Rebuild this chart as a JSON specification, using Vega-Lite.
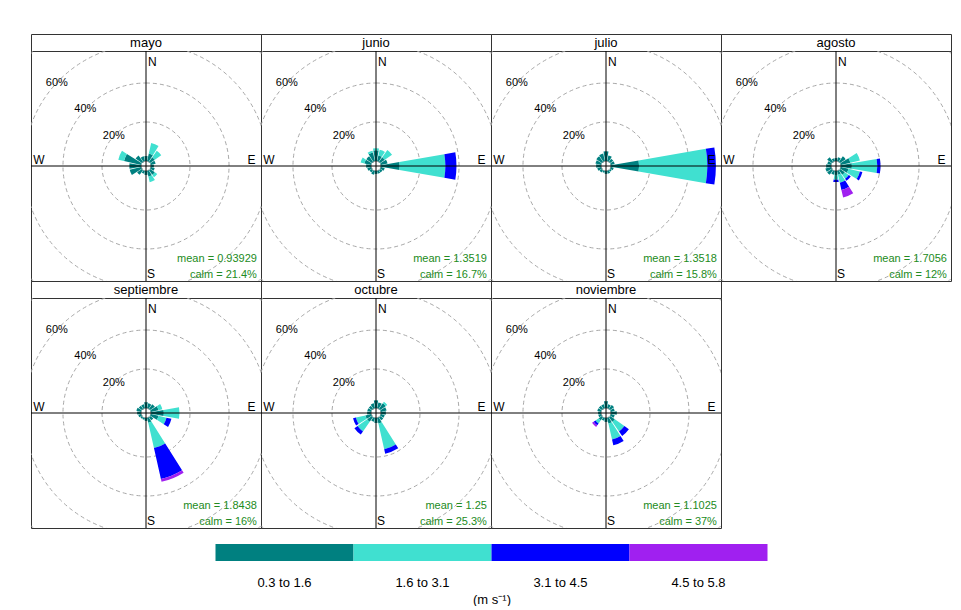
{
  "$schema": "https://vega.github.io/schema/vega-lite/v6.json",
  "padding": {"left": 30, "top": 33, "right": 10, "bottom": 0},
  "background": "white",
  "spacing": 15,
  "center": true,
  "config": {
    "view": {"stroke": "#333333", "strokeWidth": 1},
    "text": {"font": "Liberation Sans", "fontSize": 12, "color": "#000000"},
    "range": {"category": ["#008080", "#40E0D0", "#0000FF", "#A020F0"]},
    "concat": {"spacing": 0}
  },
  "datasets": {
    "grid": [{"r": 0, "t": ""}, {"r": 20, "t": "20%"}, {"r": 40, "t": "40%"}, {"r": 60, "t": "60%"}, {"r": 80, "t": ""}],
    "stats": [
      {"m": "mayo", "mean": "mean = 0.93929", "calm": "calm = 21.4%"},
      {"m": "junio", "mean": "mean = 1.3519", "calm": "calm = 16.7%"},
      {"m": "julio", "mean": "mean = 1.3518", "calm": "calm = 15.8%"},
      {"m": "agosto", "mean": "mean = 1.7056", "calm": "calm = 12%"},
      {"m": "septiembre", "mean": "mean = 1.8438", "calm": "calm = 16%"},
      {"m": "octubre", "mean": "mean = 1.25", "calm": "calm = 25.3%"},
      {"m": "noviembre", "mean": "mean = 1.1025", "calm": "calm = 37%"}
    ],
    "petals": [
      {"m": "mayo", "d": 0, "s": "0.3 to 1.6", "p": 2.5},
      {"m": "mayo", "d": 22.5, "s": "0.3 to 1.6", "p": 4},
      {"m": "mayo", "d": 22.5, "s": "1.6 to 3.1", "p": 5.5},
      {"m": "mayo", "d": 45, "s": "0.3 to 1.6", "p": 3},
      {"m": "mayo", "d": 45, "s": "1.6 to 3.1", "p": 4},
      {"m": "mayo", "d": 67.5, "s": "0.3 to 1.6", "p": 2.5},
      {"m": "mayo", "d": 90, "s": "0.3 to 1.6", "p": 1.5},
      {"m": "mayo", "d": 112.5, "s": "0.3 to 1.6", "p": 2},
      {"m": "mayo", "d": 135, "s": "0.3 to 1.6", "p": 3},
      {"m": "mayo", "d": 135, "s": "1.6 to 3.1", "p": 1.5},
      {"m": "mayo", "d": 157.5, "s": "0.3 to 1.6", "p": 3},
      {"m": "mayo", "d": 157.5, "s": "1.6 to 3.1", "p": 3},
      {"m": "mayo", "d": 180, "s": "0.3 to 1.6", "p": 2},
      {"m": "mayo", "d": 202.5, "s": "0.3 to 1.6", "p": 1.5},
      {"m": "mayo", "d": 225, "s": "0.3 to 1.6", "p": 3},
      {"m": "mayo", "d": 247.5, "s": "0.3 to 1.6", "p": 6},
      {"m": "mayo", "d": 270, "s": "0.3 to 1.6", "p": 6},
      {"m": "mayo", "d": 292.5, "s": "0.3 to 1.6", "p": 9},
      {"m": "mayo", "d": 292.5, "s": "1.6 to 3.1", "p": 3},
      {"m": "mayo", "d": 315, "s": "0.3 to 1.6", "p": 4},
      {"m": "mayo", "d": 337.5, "s": "0.3 to 1.6", "p": 2.5},

      {"m": "junio", "d": 0, "s": "0.3 to 1.6", "p": 5.5},
      {"m": "junio", "d": 0, "s": "1.6 to 3.1", "p": 1},
      {"m": "junio", "d": 22.5, "s": "0.3 to 1.6", "p": 3},
      {"m": "junio", "d": 22.5, "s": "1.6 to 3.1", "p": 3},
      {"m": "junio", "d": 45, "s": "0.3 to 1.6", "p": 3},
      {"m": "junio", "d": 45, "s": "1.6 to 3.1", "p": 4.5},
      {"m": "junio", "d": 67.5, "s": "0.3 to 1.6", "p": 3.5},
      {"m": "junio", "d": 90, "s": "0.3 to 1.6", "p": 9.6},
      {"m": "junio", "d": 90, "s": "1.6 to 3.1", "p": 23.4},
      {"m": "junio", "d": 90, "s": "3.1 to 4.5", "p": 5.7},
      {"m": "junio", "d": 112.5, "s": "0.3 to 1.6", "p": 2},
      {"m": "junio", "d": 135, "s": "0.3 to 1.6", "p": 1.5},
      {"m": "junio", "d": 157.5, "s": "0.3 to 1.6", "p": 1.5},
      {"m": "junio", "d": 180, "s": "0.3 to 1.6", "p": 1.5},
      {"m": "junio", "d": 202.5, "s": "0.3 to 1.6", "p": 2},
      {"m": "junio", "d": 225, "s": "0.3 to 1.6", "p": 1.5},
      {"m": "junio", "d": 247.5, "s": "0.3 to 1.6", "p": 2},
      {"m": "junio", "d": 270, "s": "0.3 to 1.6", "p": 2.5},
      {"m": "junio", "d": 292.5, "s": "0.3 to 1.6", "p": 3.5},
      {"m": "junio", "d": 292.5, "s": "1.6 to 3.1", "p": 2},
      {"m": "junio", "d": 315, "s": "0.3 to 1.6", "p": 3.5},
      {"m": "junio", "d": 337.5, "s": "0.3 to 1.6", "p": 4.5},
      {"m": "junio", "d": 337.5, "s": "1.6 to 3.1", "p": 1},

      {"m": "julio", "d": 0, "s": "0.3 to 1.6", "p": 5},
      {"m": "julio", "d": 22.5, "s": "0.3 to 1.6", "p": 3},
      {"m": "julio", "d": 45, "s": "0.3 to 1.6", "p": 2},
      {"m": "julio", "d": 67.5, "s": "0.3 to 1.6", "p": 2},
      {"m": "julio", "d": 90, "s": "0.3 to 1.6", "p": 14.4},
      {"m": "julio", "d": 90, "s": "1.6 to 3.1", "p": 35},
      {"m": "julio", "d": 90, "s": "3.1 to 4.5", "p": 4.4},
      {"m": "julio", "d": 112.5, "s": "0.3 to 1.6", "p": 1.5},
      {"m": "julio", "d": 135, "s": "0.3 to 1.6", "p": 1},
      {"m": "julio", "d": 157.5, "s": "0.3 to 1.6", "p": 1.5},
      {"m": "julio", "d": 180, "s": "0.3 to 1.6", "p": 1.5},
      {"m": "julio", "d": 202.5, "s": "0.3 to 1.6", "p": 1},
      {"m": "julio", "d": 225, "s": "0.3 to 1.6", "p": 1.5},
      {"m": "julio", "d": 247.5, "s": "0.3 to 1.6", "p": 2},
      {"m": "julio", "d": 270, "s": "0.3 to 1.6", "p": 2.5},
      {"m": "julio", "d": 292.5, "s": "0.3 to 1.6", "p": 3},
      {"m": "julio", "d": 315, "s": "0.3 to 1.6", "p": 3.5},
      {"m": "julio", "d": 337.5, "s": "0.3 to 1.6", "p": 4},

      {"m": "agosto", "d": 0, "s": "0.3 to 1.6", "p": 1.5},
      {"m": "agosto", "d": 22.5, "s": "0.3 to 1.6", "p": 2},
      {"m": "agosto", "d": 45, "s": "0.3 to 1.6", "p": 3.5},
      {"m": "agosto", "d": 67.5, "s": "0.3 to 1.6", "p": 5},
      {"m": "agosto", "d": 67.5, "s": "1.6 to 3.1", "p": 5},
      {"m": "agosto", "d": 90, "s": "0.3 to 1.6", "p": 5.6},
      {"m": "agosto", "d": 90, "s": "1.6 to 3.1", "p": 13},
      {"m": "agosto", "d": 90, "s": "3.1 to 4.5", "p": 1.7},
      {"m": "agosto", "d": 112.5, "s": "0.3 to 1.6", "p": 4},
      {"m": "agosto", "d": 112.5, "s": "1.6 to 3.1", "p": 6},
      {"m": "agosto", "d": 112.5, "s": "3.1 to 4.5", "p": 1.3},
      {"m": "agosto", "d": 135, "s": "0.3 to 1.6", "p": 3},
      {"m": "agosto", "d": 135, "s": "1.6 to 3.1", "p": 2.5},
      {"m": "agosto", "d": 135, "s": "3.1 to 4.5", "p": 1.2},
      {"m": "agosto", "d": 157.5, "s": "0.3 to 1.6", "p": 2},
      {"m": "agosto", "d": 157.5, "s": "1.6 to 3.1", "p": 4.3},
      {"m": "agosto", "d": 157.5, "s": "3.1 to 4.5", "p": 3.7},
      {"m": "agosto", "d": 157.5, "s": "4.5 to 5.8", "p": 4},
      {"m": "agosto", "d": 180, "s": "0.3 to 1.6", "p": 2},
      {"m": "agosto", "d": 180, "s": "1.6 to 3.1", "p": 2.5},
      {"m": "agosto", "d": 180, "s": "3.1 to 4.5", "p": 1.2},
      {"m": "agosto", "d": 202.5, "s": "0.3 to 1.6", "p": 2},
      {"m": "agosto", "d": 225, "s": "0.3 to 1.6", "p": 3},
      {"m": "agosto", "d": 247.5, "s": "0.3 to 1.6", "p": 3},
      {"m": "agosto", "d": 270, "s": "0.3 to 1.6", "p": 2.5},
      {"m": "agosto", "d": 292.5, "s": "0.3 to 1.6", "p": 2},
      {"m": "agosto", "d": 315, "s": "0.3 to 1.6", "p": 3},
      {"m": "agosto", "d": 337.5, "s": "0.3 to 1.6", "p": 1.5},

      {"m": "septiembre", "d": 0, "s": "0.3 to 1.6", "p": 3},
      {"m": "septiembre", "d": 22.5, "s": "0.3 to 1.6", "p": 2.5},
      {"m": "septiembre", "d": 45, "s": "0.3 to 1.6", "p": 3},
      {"m": "septiembre", "d": 67.5, "s": "0.3 to 1.6", "p": 4},
      {"m": "septiembre", "d": 67.5, "s": "1.6 to 3.1", "p": 2},
      {"m": "septiembre", "d": 90, "s": "0.3 to 1.6", "p": 6.6},
      {"m": "septiembre", "d": 90, "s": "1.6 to 3.1", "p": 8},
      {"m": "septiembre", "d": 112.5, "s": "0.3 to 1.6", "p": 4},
      {"m": "septiembre", "d": 112.5, "s": "1.6 to 3.1", "p": 4.2},
      {"m": "septiembre", "d": 112.5, "s": "3.1 to 4.5", "p": 2.6},
      {"m": "septiembre", "d": 135, "s": "0.3 to 1.6", "p": 2},
      {"m": "septiembre", "d": 157.5, "s": "0.3 to 1.6", "p": 2.6},
      {"m": "septiembre", "d": 157.5, "s": "1.6 to 3.1", "p": 13.3},
      {"m": "septiembre", "d": 157.5, "s": "3.1 to 4.5", "p": 16.2},
      {"m": "septiembre", "d": 157.5, "s": "4.5 to 5.8", "p": 1.5},
      {"m": "septiembre", "d": 180, "s": "0.3 to 1.6", "p": 1.5},
      {"m": "septiembre", "d": 202.5, "s": "0.3 to 1.6", "p": 1},
      {"m": "septiembre", "d": 225, "s": "0.3 to 1.6", "p": 1},
      {"m": "septiembre", "d": 247.5, "s": "0.3 to 1.6", "p": 1.5},
      {"m": "septiembre", "d": 270, "s": "0.3 to 1.6", "p": 2},
      {"m": "septiembre", "d": 292.5, "s": "0.3 to 1.6", "p": 2.5},
      {"m": "septiembre", "d": 315, "s": "0.3 to 1.6", "p": 2},
      {"m": "septiembre", "d": 337.5, "s": "0.3 to 1.6", "p": 2},

      {"m": "octubre", "d": 0, "s": "0.3 to 1.6", "p": 4},
      {"m": "octubre", "d": 22.5, "s": "0.3 to 1.6", "p": 3},
      {"m": "octubre", "d": 45, "s": "0.3 to 1.6", "p": 3.5},
      {"m": "octubre", "d": 45, "s": "1.6 to 3.1", "p": 1},
      {"m": "octubre", "d": 67.5, "s": "0.3 to 1.6", "p": 3},
      {"m": "octubre", "d": 90, "s": "0.3 to 1.6", "p": 2.5},
      {"m": "octubre", "d": 112.5, "s": "0.3 to 1.6", "p": 2},
      {"m": "octubre", "d": 135, "s": "0.3 to 1.6", "p": 2},
      {"m": "octubre", "d": 157.5, "s": "0.3 to 1.6", "p": 3},
      {"m": "octubre", "d": 157.5, "s": "1.6 to 3.1", "p": 13.5},
      {"m": "octubre", "d": 157.5, "s": "3.1 to 4.5", "p": 2.3},
      {"m": "octubre", "d": 180, "s": "0.3 to 1.6", "p": 2.5},
      {"m": "octubre", "d": 202.5, "s": "0.3 to 1.6", "p": 2},
      {"m": "octubre", "d": 225, "s": "0.3 to 1.6", "p": 3},
      {"m": "octubre", "d": 225, "s": "1.6 to 3.1", "p": 6},
      {"m": "octubre", "d": 225, "s": "3.1 to 4.5", "p": 2},
      {"m": "octubre", "d": 247.5, "s": "0.3 to 1.6", "p": 3},
      {"m": "octubre", "d": 247.5, "s": "1.6 to 3.1", "p": 5},
      {"m": "octubre", "d": 247.5, "s": "3.1 to 4.5", "p": 1.5},
      {"m": "octubre", "d": 270, "s": "0.3 to 1.6", "p": 2},
      {"m": "octubre", "d": 292.5, "s": "0.3 to 1.6", "p": 2},
      {"m": "octubre", "d": 315, "s": "0.3 to 1.6", "p": 2},
      {"m": "octubre", "d": 337.5, "s": "0.3 to 1.6", "p": 2.5},

      {"m": "noviembre", "d": 0, "s": "0.3 to 1.6", "p": 3.5},
      {"m": "noviembre", "d": 22.5, "s": "0.3 to 1.6", "p": 2},
      {"m": "noviembre", "d": 45, "s": "0.3 to 1.6", "p": 2.5},
      {"m": "noviembre", "d": 67.5, "s": "0.3 to 1.6", "p": 2},
      {"m": "noviembre", "d": 90, "s": "0.3 to 1.6", "p": 3},
      {"m": "noviembre", "d": 112.5, "s": "0.3 to 1.6", "p": 2},
      {"m": "noviembre", "d": 135, "s": "0.3 to 1.6", "p": 3},
      {"m": "noviembre", "d": 135, "s": "1.6 to 3.1", "p": 6},
      {"m": "noviembre", "d": 135, "s": "3.1 to 4.5", "p": 2.8},
      {"m": "noviembre", "d": 157.5, "s": "0.3 to 1.6", "p": 3},
      {"m": "noviembre", "d": 157.5, "s": "1.6 to 3.1", "p": 8.4},
      {"m": "noviembre", "d": 157.5, "s": "3.1 to 4.5", "p": 3},
      {"m": "noviembre", "d": 180, "s": "0.3 to 1.6", "p": 2},
      {"m": "noviembre", "d": 202.5, "s": "0.3 to 1.6", "p": 1.5},
      {"m": "noviembre", "d": 225, "s": "0.3 to 1.6", "p": 2},
      {"m": "noviembre", "d": 225, "s": "1.6 to 3.1", "p": 2},
      {"m": "noviembre", "d": 225, "s": "3.1 to 4.5", "p": 1.2},
      {"m": "noviembre", "d": 225, "s": "4.5 to 5.8", "p": 1},
      {"m": "noviembre", "d": 247.5, "s": "0.3 to 1.6", "p": 1.5},
      {"m": "noviembre", "d": 270, "s": "0.3 to 1.6", "p": 1.5},
      {"m": "noviembre", "d": 292.5, "s": "0.3 to 1.6", "p": 2},
      {"m": "noviembre", "d": 315, "s": "0.3 to 1.6", "p": 2},
      {"m": "noviembre", "d": 337.5, "s": "0.3 to 1.6", "p": 2}
    ]
  },
  "vconcat": [
    {
      "columns": 4,
      "spacing": 0,
      "bounds": "flush",
      "concat": [
        {"width": 230, "height": 17, "data": {"values": [{}]}, "mark": {"type": "text", "fontSize": 13}, "encoding": {"x": {"datum": 0, "type": "quantitative", "scale": {"domain": [-1, 1]}, "axis": null}, "y": {"datum": 0, "type": "quantitative", "scale": {"domain": [-1, 1]}, "axis": null}, "text": {"value": "mayo"}}},
        {"width": 230, "height": 17, "data": {"values": [{}]}, "mark": {"type": "text", "fontSize": 13}, "encoding": {"x": {"datum": 0, "type": "quantitative", "scale": {"domain": [-1, 1]}, "axis": null}, "y": {"datum": 0, "type": "quantitative", "scale": {"domain": [-1, 1]}, "axis": null}, "text": {"value": "junio"}}},
        {"width": 230, "height": 17, "data": {"values": [{}]}, "mark": {"type": "text", "fontSize": 13}, "encoding": {"x": {"datum": 0, "type": "quantitative", "scale": {"domain": [-1, 1]}, "axis": null}, "y": {"datum": 0, "type": "quantitative", "scale": {"domain": [-1, 1]}, "axis": null}, "text": {"value": "julio"}}},
        {"width": 230, "height": 17, "data": {"values": [{}]}, "mark": {"type": "text", "fontSize": 13}, "encoding": {"x": {"datum": 0, "type": "quantitative", "scale": {"domain": [-1, 1]}, "axis": null}, "y": {"datum": 0, "type": "quantitative", "scale": {"domain": [-1, 1]}, "axis": null}, "text": {"value": "agosto"}}},

        {"width": 230, "height": 230, "layer": [
          {"data": {"name": "grid"}, "mark": {"type": "arc", "theta": 0, "theta2": 6.2832, "filled": false, "stroke": "#a8a8a8", "strokeWidth": 1, "strokeDash": [4, 3], "clip": true}, "encoding": {"radius": {"field": "r", "type": "quantitative", "stack": null, "scale": {"type": "linear", "domain": [0, 60], "range": [5, 122], "zero": false}}}},
          {"data": {"name": "petals"}, "transform": [{"filter": "datum.m == 'mayo'"}, {"stack": "p", "groupby": ["d"], "sort": [{"field": "s"}], "as": ["lo", "hi"]}], "mark": {"type": "arc", "thetaOffset": -0.1702, "theta2Offset": 0.1702}, "encoding": {"theta": {"field": "d", "type": "quantitative", "stack": null, "scale": {"domain": [0, 360], "range": [0, 6.283185307179586]}}, "theta2": {"field": "d"}, "radius": {"field": "hi", "type": "quantitative", "stack": null}, "radius2": {"field": "lo"}, "color": {"field": "s", "type": "nominal", "scale": {"domain": ["0.3 to 1.6", "1.6 to 3.1", "3.1 to 4.5", "4.5 to 5.8"]}, "legend": null}}},
          {"data": {"values": [{}]}, "mark": {"type": "rule", "color": "#000000", "strokeWidth": 1}, "encoding": {"x": {"datum": 0, "type": "quantitative", "scale": {"domain": [-59, 59], "nice": false, "zero": false}, "axis": null}}},
          {"data": {"values": [{}]}, "mark": {"type": "rule", "color": "#000000", "strokeWidth": 1}, "encoding": {"y": {"datum": 0, "type": "quantitative", "scale": {"domain": [-59, 59], "nice": false, "zero": false}, "axis": null}}},
          {"data": {"name": "grid"}, "transform": [{"filter": "datum.t != ''"}], "mark": {"type": "text", "fontSize": 11}, "encoding": {"theta": {"datum": 313, "type": "quantitative", "stack": null}, "radius": {"field": "r", "type": "quantitative", "stack": null}, "text": {"field": "t"}}},
          {"data": {"values": [{}]}, "mark": {"type": "text"}, "encoding": {"x": {"datum": 3.3, "type": "quantitative", "axis": null}, "y": {"datum": 53.4, "type": "quantitative", "axis": null}, "text": {"value": "N"}}},
          {"data": {"values": [{}]}, "mark": {"type": "text"}, "encoding": {"x": {"datum": 54.1, "type": "quantitative", "axis": null}, "y": {"datum": 2.9, "type": "quantitative", "axis": null}, "text": {"value": "E"}}},
          {"data": {"values": [{}]}, "mark": {"type": "text"}, "encoding": {"x": {"datum": 2.6, "type": "quantitative", "axis": null}, "y": {"datum": -55.6, "type": "quantitative", "axis": null}, "text": {"value": "S"}}},
          {"data": {"values": [{}]}, "mark": {"type": "text"}, "encoding": {"x": {"datum": -54.9, "type": "quantitative", "axis": null}, "y": {"datum": 2.9, "type": "quantitative", "axis": null}, "text": {"value": "W"}}},
          {"data": {"name": "stats"}, "transform": [{"filter": "datum.m == 'mayo'"}], "mark": {"type": "text", "align": "right", "fontSize": 11, "color": "#228B22"}, "encoding": {"x": {"datum": 56.9, "type": "quantitative", "axis": null}, "y": {"datum": -47.5, "type": "quantitative", "axis": null}, "text": {"field": "mean"}}},
          {"data": {"name": "stats"}, "transform": [{"filter": "datum.m == 'mayo'"}], "mark": {"type": "text", "align": "right", "fontSize": 11, "color": "#228B22"}, "encoding": {"x": {"datum": 56.9, "type": "quantitative", "axis": null}, "y": {"datum": -56.1, "type": "quantitative", "axis": null}, "text": {"field": "calm"}}}
        ]},
        {"width": 230, "height": 230, "layer": [
          {"data": {"name": "grid"}, "mark": {"type": "arc", "theta": 0, "theta2": 6.2832, "filled": false, "stroke": "#a8a8a8", "strokeWidth": 1, "strokeDash": [4, 3], "clip": true}, "encoding": {"radius": {"field": "r", "type": "quantitative", "stack": null, "scale": {"type": "linear", "domain": [0, 60], "range": [5, 122], "zero": false}}}},
          {"data": {"name": "petals"}, "transform": [{"filter": "datum.m == 'junio'"}, {"stack": "p", "groupby": ["d"], "sort": [{"field": "s"}], "as": ["lo", "hi"]}], "mark": {"type": "arc", "thetaOffset": -0.1702, "theta2Offset": 0.1702}, "encoding": {"theta": {"field": "d", "type": "quantitative", "stack": null, "scale": {"domain": [0, 360], "range": [0, 6.283185307179586]}}, "theta2": {"field": "d"}, "radius": {"field": "hi", "type": "quantitative", "stack": null}, "radius2": {"field": "lo"}, "color": {"field": "s", "type": "nominal", "scale": {"domain": ["0.3 to 1.6", "1.6 to 3.1", "3.1 to 4.5", "4.5 to 5.8"]}, "legend": null}}},
          {"data": {"values": [{}]}, "mark": {"type": "rule", "color": "#000000", "strokeWidth": 1}, "encoding": {"x": {"datum": 0, "type": "quantitative", "scale": {"domain": [-59, 59], "nice": false, "zero": false}, "axis": null}}},
          {"data": {"values": [{}]}, "mark": {"type": "rule", "color": "#000000", "strokeWidth": 1}, "encoding": {"y": {"datum": 0, "type": "quantitative", "scale": {"domain": [-59, 59], "nice": false, "zero": false}, "axis": null}}},
          {"data": {"name": "grid"}, "transform": [{"filter": "datum.t != ''"}], "mark": {"type": "text", "fontSize": 11}, "encoding": {"theta": {"datum": 313, "type": "quantitative", "stack": null}, "radius": {"field": "r", "type": "quantitative", "stack": null}, "text": {"field": "t"}}},
          {"data": {"values": [{}]}, "mark": {"type": "text"}, "encoding": {"x": {"datum": 3.3, "type": "quantitative", "axis": null}, "y": {"datum": 53.4, "type": "quantitative", "axis": null}, "text": {"value": "N"}}},
          {"data": {"values": [{}]}, "mark": {"type": "text"}, "encoding": {"x": {"datum": 54.1, "type": "quantitative", "axis": null}, "y": {"datum": 2.9, "type": "quantitative", "axis": null}, "text": {"value": "E"}}},
          {"data": {"values": [{}]}, "mark": {"type": "text"}, "encoding": {"x": {"datum": 2.6, "type": "quantitative", "axis": null}, "y": {"datum": -55.6, "type": "quantitative", "axis": null}, "text": {"value": "S"}}},
          {"data": {"values": [{}]}, "mark": {"type": "text"}, "encoding": {"x": {"datum": -54.9, "type": "quantitative", "axis": null}, "y": {"datum": 2.9, "type": "quantitative", "axis": null}, "text": {"value": "W"}}},
          {"data": {"name": "stats"}, "transform": [{"filter": "datum.m == 'junio'"}], "mark": {"type": "text", "align": "right", "fontSize": 11, "color": "#228B22"}, "encoding": {"x": {"datum": 56.9, "type": "quantitative", "axis": null}, "y": {"datum": -47.5, "type": "quantitative", "axis": null}, "text": {"field": "mean"}}},
          {"data": {"name": "stats"}, "transform": [{"filter": "datum.m == 'junio'"}], "mark": {"type": "text", "align": "right", "fontSize": 11, "color": "#228B22"}, "encoding": {"x": {"datum": 56.9, "type": "quantitative", "axis": null}, "y": {"datum": -56.1, "type": "quantitative", "axis": null}, "text": {"field": "calm"}}}
        ]},
        {"width": 230, "height": 230, "layer": [
          {"data": {"name": "grid"}, "mark": {"type": "arc", "theta": 0, "theta2": 6.2832, "filled": false, "stroke": "#a8a8a8", "strokeWidth": 1, "strokeDash": [4, 3], "clip": true}, "encoding": {"radius": {"field": "r", "type": "quantitative", "stack": null, "scale": {"type": "linear", "domain": [0, 60], "range": [5, 122], "zero": false}}}},
          {"data": {"name": "petals"}, "transform": [{"filter": "datum.m == 'julio'"}, {"stack": "p", "groupby": ["d"], "sort": [{"field": "s"}], "as": ["lo", "hi"]}], "mark": {"type": "arc", "thetaOffset": -0.1702, "theta2Offset": 0.1702}, "encoding": {"theta": {"field": "d", "type": "quantitative", "stack": null, "scale": {"domain": [0, 360], "range": [0, 6.283185307179586]}}, "theta2": {"field": "d"}, "radius": {"field": "hi", "type": "quantitative", "stack": null}, "radius2": {"field": "lo"}, "color": {"field": "s", "type": "nominal", "scale": {"domain": ["0.3 to 1.6", "1.6 to 3.1", "3.1 to 4.5", "4.5 to 5.8"]}, "legend": null}}},
          {"data": {"values": [{}]}, "mark": {"type": "rule", "color": "#000000", "strokeWidth": 1}, "encoding": {"x": {"datum": 0, "type": "quantitative", "scale": {"domain": [-59, 59], "nice": false, "zero": false}, "axis": null}}},
          {"data": {"values": [{}]}, "mark": {"type": "rule", "color": "#000000", "strokeWidth": 1}, "encoding": {"y": {"datum": 0, "type": "quantitative", "scale": {"domain": [-59, 59], "nice": false, "zero": false}, "axis": null}}},
          {"data": {"name": "grid"}, "transform": [{"filter": "datum.t != ''"}], "mark": {"type": "text", "fontSize": 11}, "encoding": {"theta": {"datum": 313, "type": "quantitative", "stack": null}, "radius": {"field": "r", "type": "quantitative", "stack": null}, "text": {"field": "t"}}},
          {"data": {"values": [{}]}, "mark": {"type": "text"}, "encoding": {"x": {"datum": 3.3, "type": "quantitative", "axis": null}, "y": {"datum": 53.4, "type": "quantitative", "axis": null}, "text": {"value": "N"}}},
          {"data": {"values": [{}]}, "mark": {"type": "text"}, "encoding": {"x": {"datum": 54.1, "type": "quantitative", "axis": null}, "y": {"datum": 2.9, "type": "quantitative", "axis": null}, "text": {"value": "E"}}},
          {"data": {"values": [{}]}, "mark": {"type": "text"}, "encoding": {"x": {"datum": 2.6, "type": "quantitative", "axis": null}, "y": {"datum": -55.6, "type": "quantitative", "axis": null}, "text": {"value": "S"}}},
          {"data": {"values": [{}]}, "mark": {"type": "text"}, "encoding": {"x": {"datum": -54.9, "type": "quantitative", "axis": null}, "y": {"datum": 2.9, "type": "quantitative", "axis": null}, "text": {"value": "W"}}},
          {"data": {"name": "stats"}, "transform": [{"filter": "datum.m == 'julio'"}], "mark": {"type": "text", "align": "right", "fontSize": 11, "color": "#228B22"}, "encoding": {"x": {"datum": 56.9, "type": "quantitative", "axis": null}, "y": {"datum": -47.5, "type": "quantitative", "axis": null}, "text": {"field": "mean"}}},
          {"data": {"name": "stats"}, "transform": [{"filter": "datum.m == 'julio'"}], "mark": {"type": "text", "align": "right", "fontSize": 11, "color": "#228B22"}, "encoding": {"x": {"datum": 56.9, "type": "quantitative", "axis": null}, "y": {"datum": -56.1, "type": "quantitative", "axis": null}, "text": {"field": "calm"}}}
        ]},
        {"width": 230, "height": 230, "layer": [
          {"data": {"name": "grid"}, "mark": {"type": "arc", "theta": 0, "theta2": 6.2832, "filled": false, "stroke": "#a8a8a8", "strokeWidth": 1, "strokeDash": [4, 3], "clip": true}, "encoding": {"radius": {"field": "r", "type": "quantitative", "stack": null, "scale": {"type": "linear", "domain": [0, 60], "range": [5, 122], "zero": false}}}},
          {"data": {"name": "petals"}, "transform": [{"filter": "datum.m == 'agosto'"}, {"stack": "p", "groupby": ["d"], "sort": [{"field": "s"}], "as": ["lo", "hi"]}], "mark": {"type": "arc", "thetaOffset": -0.1702, "theta2Offset": 0.1702}, "encoding": {"theta": {"field": "d", "type": "quantitative", "stack": null, "scale": {"domain": [0, 360], "range": [0, 6.283185307179586]}}, "theta2": {"field": "d"}, "radius": {"field": "hi", "type": "quantitative", "stack": null}, "radius2": {"field": "lo"}, "color": {"field": "s", "type": "nominal", "scale": {"domain": ["0.3 to 1.6", "1.6 to 3.1", "3.1 to 4.5", "4.5 to 5.8"]}, "legend": null}}},
          {"data": {"values": [{}]}, "mark": {"type": "rule", "color": "#000000", "strokeWidth": 1}, "encoding": {"x": {"datum": 0, "type": "quantitative", "scale": {"domain": [-59, 59], "nice": false, "zero": false}, "axis": null}}},
          {"data": {"values": [{}]}, "mark": {"type": "rule", "color": "#000000", "strokeWidth": 1}, "encoding": {"y": {"datum": 0, "type": "quantitative", "scale": {"domain": [-59, 59], "nice": false, "zero": false}, "axis": null}}},
          {"data": {"name": "grid"}, "transform": [{"filter": "datum.t != ''"}], "mark": {"type": "text", "fontSize": 11}, "encoding": {"theta": {"datum": 313, "type": "quantitative", "stack": null}, "radius": {"field": "r", "type": "quantitative", "stack": null}, "text": {"field": "t"}}},
          {"data": {"values": [{}]}, "mark": {"type": "text"}, "encoding": {"x": {"datum": 3.3, "type": "quantitative", "axis": null}, "y": {"datum": 53.4, "type": "quantitative", "axis": null}, "text": {"value": "N"}}},
          {"data": {"values": [{}]}, "mark": {"type": "text"}, "encoding": {"x": {"datum": 54.1, "type": "quantitative", "axis": null}, "y": {"datum": 2.9, "type": "quantitative", "axis": null}, "text": {"value": "E"}}},
          {"data": {"values": [{}]}, "mark": {"type": "text"}, "encoding": {"x": {"datum": 2.6, "type": "quantitative", "axis": null}, "y": {"datum": -55.6, "type": "quantitative", "axis": null}, "text": {"value": "S"}}},
          {"data": {"values": [{}]}, "mark": {"type": "text"}, "encoding": {"x": {"datum": -54.9, "type": "quantitative", "axis": null}, "y": {"datum": 2.9, "type": "quantitative", "axis": null}, "text": {"value": "W"}}},
          {"data": {"name": "stats"}, "transform": [{"filter": "datum.m == 'agosto'"}], "mark": {"type": "text", "align": "right", "fontSize": 11, "color": "#228B22"}, "encoding": {"x": {"datum": 56.9, "type": "quantitative", "axis": null}, "y": {"datum": -47.5, "type": "quantitative", "axis": null}, "text": {"field": "mean"}}},
          {"data": {"name": "stats"}, "transform": [{"filter": "datum.m == 'agosto'"}], "mark": {"type": "text", "align": "right", "fontSize": 11, "color": "#228B22"}, "encoding": {"x": {"datum": 56.9, "type": "quantitative", "axis": null}, "y": {"datum": -56.1, "type": "quantitative", "axis": null}, "text": {"field": "calm"}}}
        ]},

        {"width": 230, "height": 17, "data": {"values": [{}]}, "mark": {"type": "text", "fontSize": 13}, "encoding": {"x": {"datum": 0, "type": "quantitative", "scale": {"domain": [-1, 1]}, "axis": null}, "y": {"datum": 0, "type": "quantitative", "scale": {"domain": [-1, 1]}, "axis": null}, "text": {"value": "septiembre"}}},
        {"width": 230, "height": 17, "data": {"values": [{}]}, "mark": {"type": "text", "fontSize": 13}, "encoding": {"x": {"datum": 0, "type": "quantitative", "scale": {"domain": [-1, 1]}, "axis": null}, "y": {"datum": 0, "type": "quantitative", "scale": {"domain": [-1, 1]}, "axis": null}, "text": {"value": "octubre"}}},
        {"width": 230, "height": 17, "data": {"values": [{}]}, "mark": {"type": "text", "fontSize": 13}, "encoding": {"x": {"datum": 0, "type": "quantitative", "scale": {"domain": [-1, 1]}, "axis": null}, "y": {"datum": 0, "type": "quantitative", "scale": {"domain": [-1, 1]}, "axis": null}, "text": {"value": "noviembre"}}},
        {"width": 230, "height": 17, "view": {"stroke": null}, "data": {"values": [{}]}, "mark": {"type": "text"}, "encoding": {"text": {"value": ""}}},

        {"width": 230, "height": 230, "layer": [
          {"data": {"name": "grid"}, "mark": {"type": "arc", "theta": 0, "theta2": 6.2832, "filled": false, "stroke": "#a8a8a8", "strokeWidth": 1, "strokeDash": [4, 3], "clip": true}, "encoding": {"radius": {"field": "r", "type": "quantitative", "stack": null, "scale": {"type": "linear", "domain": [0, 60], "range": [5, 122], "zero": false}}}},
          {"data": {"name": "petals"}, "transform": [{"filter": "datum.m == 'septiembre'"}, {"stack": "p", "groupby": ["d"], "sort": [{"field": "s"}], "as": ["lo", "hi"]}], "mark": {"type": "arc", "thetaOffset": -0.1702, "theta2Offset": 0.1702}, "encoding": {"theta": {"field": "d", "type": "quantitative", "stack": null, "scale": {"domain": [0, 360], "range": [0, 6.283185307179586]}}, "theta2": {"field": "d"}, "radius": {"field": "hi", "type": "quantitative", "stack": null}, "radius2": {"field": "lo"}, "color": {"field": "s", "type": "nominal", "scale": {"domain": ["0.3 to 1.6", "1.6 to 3.1", "3.1 to 4.5", "4.5 to 5.8"]}, "legend": null}}},
          {"data": {"values": [{}]}, "mark": {"type": "rule", "color": "#000000", "strokeWidth": 1}, "encoding": {"x": {"datum": 0, "type": "quantitative", "scale": {"domain": [-59, 59], "nice": false, "zero": false}, "axis": null}}},
          {"data": {"values": [{}]}, "mark": {"type": "rule", "color": "#000000", "strokeWidth": 1}, "encoding": {"y": {"datum": 0, "type": "quantitative", "scale": {"domain": [-59, 59], "nice": false, "zero": false}, "axis": null}}},
          {"data": {"name": "grid"}, "transform": [{"filter": "datum.t != ''"}], "mark": {"type": "text", "fontSize": 11}, "encoding": {"theta": {"datum": 313, "type": "quantitative", "stack": null}, "radius": {"field": "r", "type": "quantitative", "stack": null}, "text": {"field": "t"}}},
          {"data": {"values": [{}]}, "mark": {"type": "text"}, "encoding": {"x": {"datum": 3.3, "type": "quantitative", "axis": null}, "y": {"datum": 53.4, "type": "quantitative", "axis": null}, "text": {"value": "N"}}},
          {"data": {"values": [{}]}, "mark": {"type": "text"}, "encoding": {"x": {"datum": 54.1, "type": "quantitative", "axis": null}, "y": {"datum": 2.9, "type": "quantitative", "axis": null}, "text": {"value": "E"}}},
          {"data": {"values": [{}]}, "mark": {"type": "text"}, "encoding": {"x": {"datum": 2.6, "type": "quantitative", "axis": null}, "y": {"datum": -55.6, "type": "quantitative", "axis": null}, "text": {"value": "S"}}},
          {"data": {"values": [{}]}, "mark": {"type": "text"}, "encoding": {"x": {"datum": -54.9, "type": "quantitative", "axis": null}, "y": {"datum": 2.9, "type": "quantitative", "axis": null}, "text": {"value": "W"}}},
          {"data": {"name": "stats"}, "transform": [{"filter": "datum.m == 'septiembre'"}], "mark": {"type": "text", "align": "right", "fontSize": 11, "color": "#228B22"}, "encoding": {"x": {"datum": 56.9, "type": "quantitative", "axis": null}, "y": {"datum": -47.5, "type": "quantitative", "axis": null}, "text": {"field": "mean"}}},
          {"data": {"name": "stats"}, "transform": [{"filter": "datum.m == 'septiembre'"}], "mark": {"type": "text", "align": "right", "fontSize": 11, "color": "#228B22"}, "encoding": {"x": {"datum": 56.9, "type": "quantitative", "axis": null}, "y": {"datum": -56.1, "type": "quantitative", "axis": null}, "text": {"field": "calm"}}}
        ]},
        {"width": 230, "height": 230, "layer": [
          {"data": {"name": "grid"}, "mark": {"type": "arc", "theta": 0, "theta2": 6.2832, "filled": false, "stroke": "#a8a8a8", "strokeWidth": 1, "strokeDash": [4, 3], "clip": true}, "encoding": {"radius": {"field": "r", "type": "quantitative", "stack": null, "scale": {"type": "linear", "domain": [0, 60], "range": [5, 122], "zero": false}}}},
          {"data": {"name": "petals"}, "transform": [{"filter": "datum.m == 'octubre'"}, {"stack": "p", "groupby": ["d"], "sort": [{"field": "s"}], "as": ["lo", "hi"]}], "mark": {"type": "arc", "thetaOffset": -0.1702, "theta2Offset": 0.1702}, "encoding": {"theta": {"field": "d", "type": "quantitative", "stack": null, "scale": {"domain": [0, 360], "range": [0, 6.283185307179586]}}, "theta2": {"field": "d"}, "radius": {"field": "hi", "type": "quantitative", "stack": null}, "radius2": {"field": "lo"}, "color": {"field": "s", "type": "nominal", "scale": {"domain": ["0.3 to 1.6", "1.6 to 3.1", "3.1 to 4.5", "4.5 to 5.8"]}, "legend": null}}},
          {"data": {"values": [{}]}, "mark": {"type": "rule", "color": "#000000", "strokeWidth": 1}, "encoding": {"x": {"datum": 0, "type": "quantitative", "scale": {"domain": [-59, 59], "nice": false, "zero": false}, "axis": null}}},
          {"data": {"values": [{}]}, "mark": {"type": "rule", "color": "#000000", "strokeWidth": 1}, "encoding": {"y": {"datum": 0, "type": "quantitative", "scale": {"domain": [-59, 59], "nice": false, "zero": false}, "axis": null}}},
          {"data": {"name": "grid"}, "transform": [{"filter": "datum.t != ''"}], "mark": {"type": "text", "fontSize": 11}, "encoding": {"theta": {"datum": 313, "type": "quantitative", "stack": null}, "radius": {"field": "r", "type": "quantitative", "stack": null}, "text": {"field": "t"}}},
          {"data": {"values": [{}]}, "mark": {"type": "text"}, "encoding": {"x": {"datum": 3.3, "type": "quantitative", "axis": null}, "y": {"datum": 53.4, "type": "quantitative", "axis": null}, "text": {"value": "N"}}},
          {"data": {"values": [{}]}, "mark": {"type": "text"}, "encoding": {"x": {"datum": 54.1, "type": "quantitative", "axis": null}, "y": {"datum": 2.9, "type": "quantitative", "axis": null}, "text": {"value": "E"}}},
          {"data": {"values": [{}]}, "mark": {"type": "text"}, "encoding": {"x": {"datum": 2.6, "type": "quantitative", "axis": null}, "y": {"datum": -55.6, "type": "quantitative", "axis": null}, "text": {"value": "S"}}},
          {"data": {"values": [{}]}, "mark": {"type": "text"}, "encoding": {"x": {"datum": -54.9, "type": "quantitative", "axis": null}, "y": {"datum": 2.9, "type": "quantitative", "axis": null}, "text": {"value": "W"}}},
          {"data": {"name": "stats"}, "transform": [{"filter": "datum.m == 'octubre'"}], "mark": {"type": "text", "align": "right", "fontSize": 11, "color": "#228B22"}, "encoding": {"x": {"datum": 56.9, "type": "quantitative", "axis": null}, "y": {"datum": -47.5, "type": "quantitative", "axis": null}, "text": {"field": "mean"}}},
          {"data": {"name": "stats"}, "transform": [{"filter": "datum.m == 'octubre'"}], "mark": {"type": "text", "align": "right", "fontSize": 11, "color": "#228B22"}, "encoding": {"x": {"datum": 56.9, "type": "quantitative", "axis": null}, "y": {"datum": -56.1, "type": "quantitative", "axis": null}, "text": {"field": "calm"}}}
        ]},
        {"width": 230, "height": 230, "layer": [
          {"data": {"name": "grid"}, "mark": {"type": "arc", "theta": 0, "theta2": 6.2832, "filled": false, "stroke": "#a8a8a8", "strokeWidth": 1, "strokeDash": [4, 3], "clip": true}, "encoding": {"radius": {"field": "r", "type": "quantitative", "stack": null, "scale": {"type": "linear", "domain": [0, 60], "range": [5, 122], "zero": false}}}},
          {"data": {"name": "petals"}, "transform": [{"filter": "datum.m == 'noviembre'"}, {"stack": "p", "groupby": ["d"], "sort": [{"field": "s"}], "as": ["lo", "hi"]}], "mark": {"type": "arc", "thetaOffset": -0.1702, "theta2Offset": 0.1702}, "encoding": {"theta": {"field": "d", "type": "quantitative", "stack": null, "scale": {"domain": [0, 360], "range": [0, 6.283185307179586]}}, "theta2": {"field": "d"}, "radius": {"field": "hi", "type": "quantitative", "stack": null}, "radius2": {"field": "lo"}, "color": {"field": "s", "type": "nominal", "scale": {"domain": ["0.3 to 1.6", "1.6 to 3.1", "3.1 to 4.5", "4.5 to 5.8"]}, "legend": null}}},
          {"data": {"values": [{}]}, "mark": {"type": "rule", "color": "#000000", "strokeWidth": 1}, "encoding": {"x": {"datum": 0, "type": "quantitative", "scale": {"domain": [-59, 59], "nice": false, "zero": false}, "axis": null}}},
          {"data": {"values": [{}]}, "mark": {"type": "rule", "color": "#000000", "strokeWidth": 1}, "encoding": {"y": {"datum": 0, "type": "quantitative", "scale": {"domain": [-59, 59], "nice": false, "zero": false}, "axis": null}}},
          {"data": {"name": "grid"}, "transform": [{"filter": "datum.t != ''"}], "mark": {"type": "text", "fontSize": 11}, "encoding": {"theta": {"datum": 313, "type": "quantitative", "stack": null}, "radius": {"field": "r", "type": "quantitative", "stack": null}, "text": {"field": "t"}}},
          {"data": {"values": [{}]}, "mark": {"type": "text"}, "encoding": {"x": {"datum": 3.3, "type": "quantitative", "axis": null}, "y": {"datum": 53.4, "type": "quantitative", "axis": null}, "text": {"value": "N"}}},
          {"data": {"values": [{}]}, "mark": {"type": "text"}, "encoding": {"x": {"datum": 54.1, "type": "quantitative", "axis": null}, "y": {"datum": 2.9, "type": "quantitative", "axis": null}, "text": {"value": "E"}}},
          {"data": {"values": [{}]}, "mark": {"type": "text"}, "encoding": {"x": {"datum": 2.6, "type": "quantitative", "axis": null}, "y": {"datum": -55.6, "type": "quantitative", "axis": null}, "text": {"value": "S"}}},
          {"data": {"values": [{}]}, "mark": {"type": "text"}, "encoding": {"x": {"datum": -54.9, "type": "quantitative", "axis": null}, "y": {"datum": 2.9, "type": "quantitative", "axis": null}, "text": {"value": "W"}}},
          {"data": {"name": "stats"}, "transform": [{"filter": "datum.m == 'noviembre'"}], "mark": {"type": "text", "align": "right", "fontSize": 11, "color": "#228B22"}, "encoding": {"x": {"datum": 56.9, "type": "quantitative", "axis": null}, "y": {"datum": -47.5, "type": "quantitative", "axis": null}, "text": {"field": "mean"}}},
          {"data": {"name": "stats"}, "transform": [{"filter": "datum.m == 'noviembre'"}], "mark": {"type": "text", "align": "right", "fontSize": 11, "color": "#228B22"}, "encoding": {"x": {"datum": 56.9, "type": "quantitative", "axis": null}, "y": {"datum": -56.1, "type": "quantitative", "axis": null}, "text": {"field": "calm"}}}
        ]}
      ]
    },
    {
      "width": 552,
      "height": 17,
      "view": {"stroke": null},
      "data": {"values": [{"s": "0.3 to 1.6"}, {"s": "1.6 to 3.1"}, {"s": "3.1 to 4.5"}, {"s": "4.5 to 5.8"}]},
      "mark": {"type": "rect"},
      "encoding": {
        "x": {"field": "s", "type": "nominal", "scale": {"paddingInner": 0, "paddingOuter": 0},
          "axis": {"title": "(m s⁻¹)", "orient": "bottom", "ticks": false, "domain": false, "labelAngle": 0, "labelFont": "Liberation Sans", "labelFontSize": 13, "labelColor": "#000000", "labelPadding": 15, "titleFont": "Liberation Sans", "titleFontSize": 13, "titleFontWeight": "normal", "titleColor": "#000000", "titlePadding": 4}},
        "color": {"field": "s", "type": "nominal", "scale": {"domain": ["0.3 to 1.6", "1.6 to 3.1", "3.1 to 4.5", "4.5 to 5.8"]}, "legend": null}
      }
    }
  ]
}
